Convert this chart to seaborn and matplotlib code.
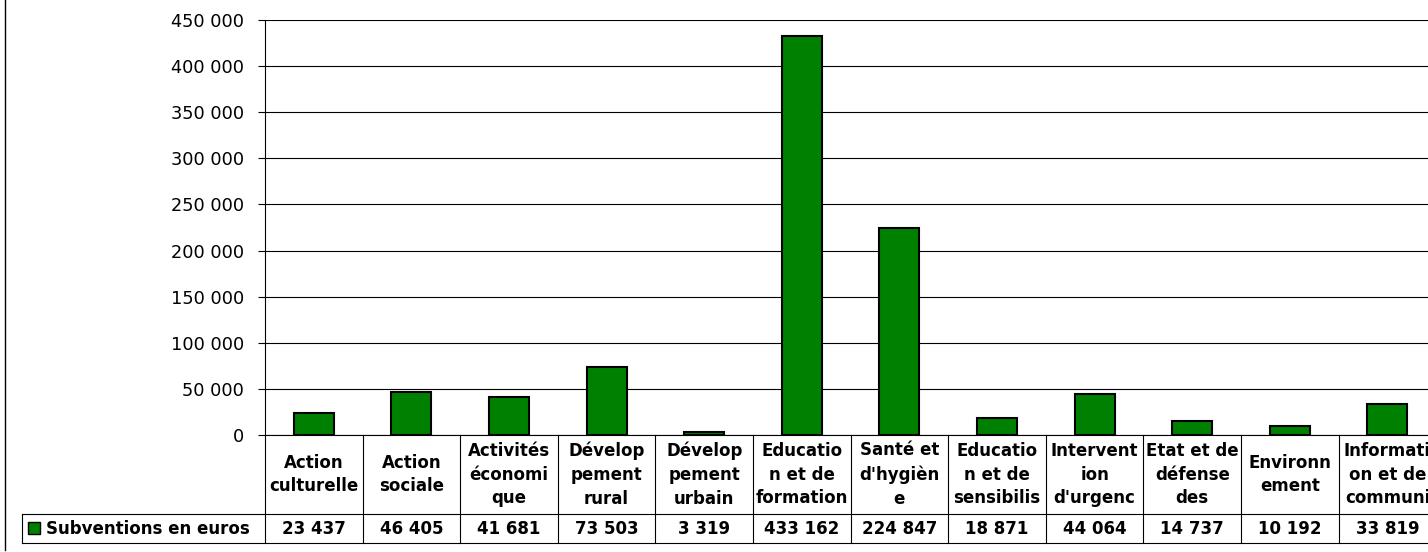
import matplotlib
matplotlib.use("Agg")
import matplotlib.pyplot as plt
import matplotlib.transforms as mtransforms
from matplotlib.lines import Line2D
from matplotlib.patches import Rectangle
from matplotlib.ticker import FuncFormatter, MultipleLocator
import seaborn as sns
import pandas as pd

# data (labels as wrapped in the original data table)
categories = [
    "Action\nculturelle", "Action\nsociale", "Activités\néconomi\nque",
    "Dévelop\npement\nrural", "Dévelop\npement\nurbain", "Educatio\nn et de\nformation",
    "Santé et\nd'hygièn\ne", "Educatio\nn et de\nsensibilis", "Intervent\nion\nd'urgenc",
    "Etat et de\ndéfense\ndes", "Environn\nement", "Informati\non et de\ncommuni",
]
subventions = [23437, 46405, 41681, 73503, 3319, 433162, 224847,
               18871, 44064, 14737, 10192, 33819]
series_name = "Subventions en euros"

W, H = 1428, 552
plt.rcParams["font.family"] = ["DejaVu Sans"]

df = pd.DataFrame({"cat": categories, "val": subventions})

fig = plt.figure(figsize=(W / 100, H / 100), dpi=100)
fig.patch.set_facecolor("white")

def fx(px):
    return px / W

def fy(py):
    return 1 - py / H

left_px, right_px, top_px, bot_px = 265, 265 + 12 * 97.6, 20, 435
ax = fig.add_axes([fx(left_px), fy(bot_px), fx(right_px - left_px), (bot_px - top_px) / H])

sns.barplot(data=df, x="cat", y="val", color="#008000", edgecolor="black",
            linewidth=1.5, width=0.41, saturation=1, ax=ax)

ax.set_xlim(-0.5, len(categories) - 0.5)
ax.set_ylim(0, 450000)
ax.yaxis.set_major_locator(MultipleLocator(50000))
ax.yaxis.set_major_formatter(FuncFormatter(lambda v, p: f"{int(v):,}".replace(",", " ")))
ax.grid(axis="y", color="black", linewidth=0.8)
ax.set_axisbelow(True)
ax.set_xticks([])
ax.set_xlabel("")
ax.set_ylabel("")
ax.tick_params(axis="y", direction="out", length=5, width=0.8, color="black",
               labelsize=12.8, pad=10)
for s in ["top", "right"]:
    ax.spines[s].set_visible(False)
ax.spines["left"].set_linewidth(0.8)
ax.spines["bottom"].set_linewidth(0.8)

# data table under the axis
trans = mtransforms.blended_transform_factory(ax.transData, fig.transFigure)
row1_top, row1_bot, row2_bot = 435, 514, 543
for i in range(len(categories) + 1):
    ax.plot([i - 0.5, i - 0.5], [fy(row1_top), fy(row2_bot)], color="black",
            linewidth=0.8, transform=trans, clip_on=False)
for i, (lab, v) in enumerate(zip(categories, subventions)):
    ax.text(i, fy((row1_top + row1_bot) / 2), lab, transform=trans, ha="center",
            va="center", fontsize=12, fontweight="bold", linespacing=1.42)
    ax.text(i, fy((row1_bot + row2_bot) / 2), f"{v:,}".replace(",", " "),
            transform=trans, ha="center", va="center", fontsize=12, fontweight="bold")

for py in [row1_bot, row2_bot]:
    fig.add_artist(Line2D([fx(22), 1.01], [fy(py), fy(py)], color="black", linewidth=0.8))
fig.add_artist(Line2D([fx(22), fx(22)], [fy(row1_bot), fy(row2_bot)], color="black", linewidth=0.8))

# legend key in the table
fig.add_artist(Rectangle((fx(28), fy(534)), fx(12), 12 / H, facecolor="#008000",
                         edgecolor="black", linewidth=1.0))
fig.text(fx(46), fy((row1_bot + row2_bot) / 2), series_name, ha="left", va="center",
         fontsize=12, fontweight="bold")

# chart area border (left edge)
fig.add_artist(Line2D([fx(5), fx(5)], [fy(0), fy(550)], color="black", linewidth=1.0))

fig.savefig("out.png", dpi=100)
